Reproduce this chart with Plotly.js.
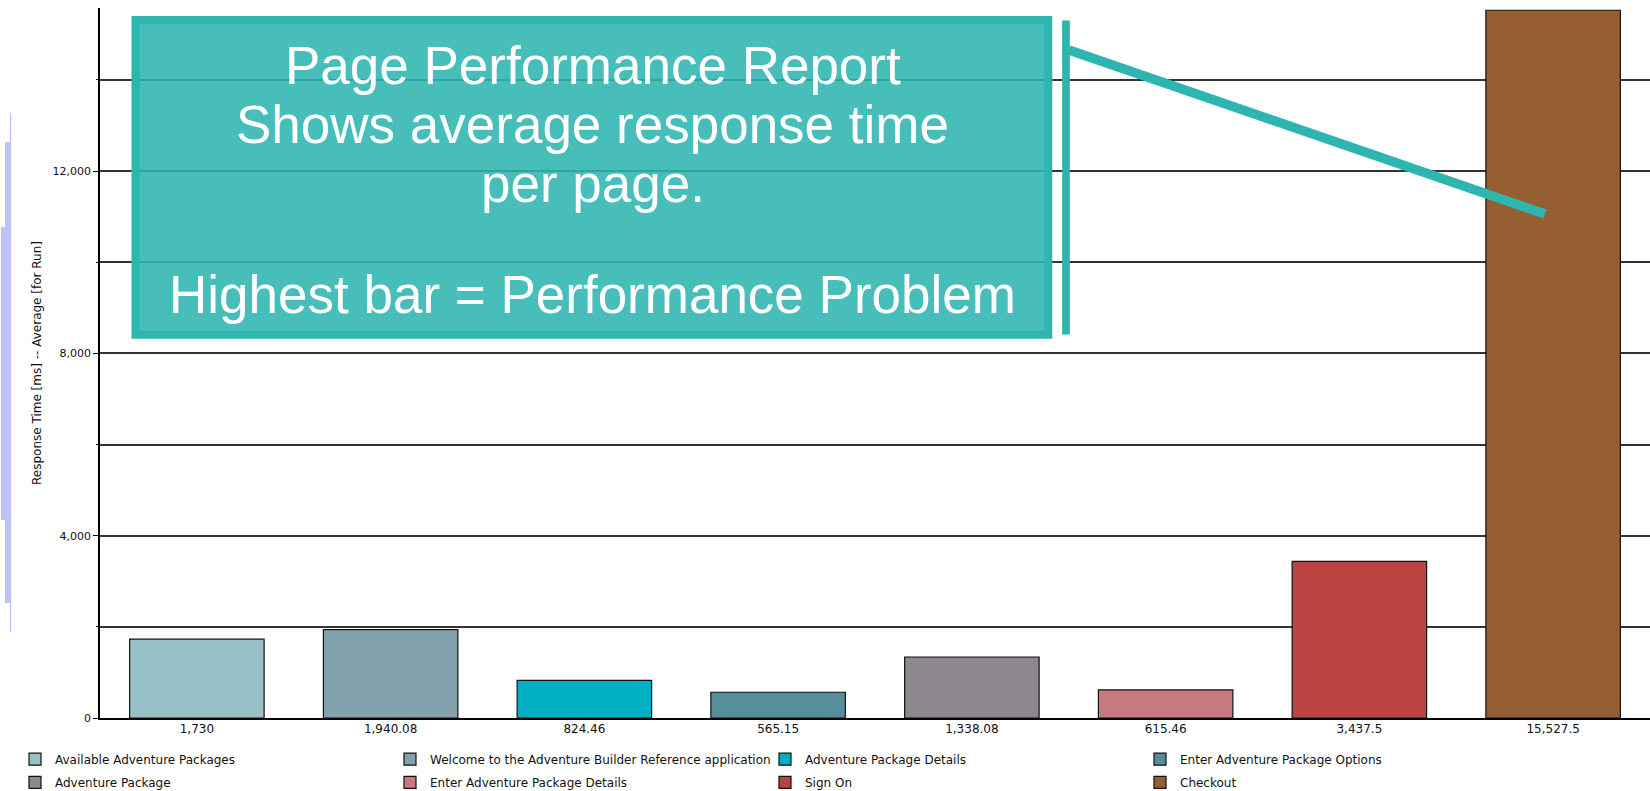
<!DOCTYPE html>
<html>
<head>
<meta charset="utf-8">
<script src="https://cdn.plot.ly/plotly-3.0.1.min.js"></script>
<style>
  html, body { margin: 0; padding: 0; background: #ffffff; }
  #chart { width: 1650px; height: 791px; }
</style>
</head>
<body>
<div id="chart"></div>
<script>
// ---- Data ----
const pageNames = [
  "Available Adventure Packages",
  "Welcome to the Adventure Builder Reference application",
  "Adventure Package Details",
  "Enter Adventure Package Options",
  "Adventure Package",
  "Enter Adventure Package Details",
  "Sign On",
  "Checkout"
];
const responseTimes = [1730, 1940.08, 824.46, 565.15, 1338.08, 615.46, 3437.5, 15527.5];
const tickLabels = ["1,730", "1,940.08", "824.46", "565.15", "1,338.08", "615.46", "3,437.5", "15,527.5"];
const barColors = ["#97c1c6", "#82a2ae", "#00afc2", "#568f9b", "#8d8890", "#c67a7f", "#bb4443", "#955f31"];
const legendRow = ["legend", "legend", "legend", "legend", "legend2", "legend2", "legend2", "legend2"];
const yTickVals = [0, 4000, 8000, 12000];
const yMinorVals = [2000, 6000, 10000, 14000];

const calloutLines = [
  "Page Performance Report",
  "Shows average response time",
  "per page.",
  "Highest bar = Performance Problem"
];

// ---- Layout geometry (pixels) ----
const W = 1650, H = 791;
const M = { l: 100, r: 0, t: 8, b: 73, autoexpand: false };
const plotW = W - M.l - M.r, plotH = H - M.t - M.b;
const px = v => (v - M.l) / plotW;          // pixel x -> paper x
const py = v => (H - M.b - v) / plotH;       // pixel y -> paper y

const teal = "#2eb5b0";
const gridCol = "#333333";

const traces = pageNames.map((name, i) => ({
  type: "bar",
  name: name,
  legend: legendRow[i],
  x: [tickLabels[i]],
  y: [responseTimes[i]],
  marker: { color: barColors[i], line: { color: "#111111", width: 1.2 } },
  hoverinfo: "name+y"
}));

const shapes = [
  // lavender artefacts at the far left
  { type: "rect", xref: "paper", yref: "paper", x0: px(1), x1: px(11), y0: py(520), y1: py(227),
    fillcolor: "#bec2f8", line: { width: 0 }, layer: "above" },
  { type: "rect", xref: "paper", yref: "paper", x0: px(5), x1: px(11), y0: py(603), y1: py(142),
    fillcolor: "#bec2f8", line: { width: 0 }, layer: "above" },
  { type: "rect", xref: "paper", yref: "paper", x0: px(10), x1: px(11.2), y0: py(632), y1: py(113),
    fillcolor: "#bec2f8", line: { width: 0 }, layer: "above" },
  // callout box
  { type: "rect", xref: "paper", yref: "paper", x0: px(135.5), x1: px(1048.3), y0: py(334.7), y1: py(20),
    fillcolor: "rgba(46,181,176,0.88)", line: { color: teal, width: 8 }, layer: "above" },
  // vertical bar next to callout
  { type: "line", xref: "paper", yref: "paper", x0: px(1066), x1: px(1066), y0: py(334.5), y1: py(20.5),
    line: { color: teal, width: 7.7 }, layer: "above" },
  // pointer line to the highest bar
  { type: "line", xref: "paper", yref: "paper", x0: px(1069), x1: px(1545), y0: py(50), y1: py(214),
    line: { color: teal, width: 9.5 }, layer: "above" }
];

const lineY = [65, 124, 183, 294];
const annotations = calloutLines.map((t, i) => ({
  xref: "paper", yref: "paper",
  x: px(592.5), y: py(lineY[i]),
  xanchor: "center", yanchor: "middle",
  text: t, showarrow: false,
  font: { family: "Liberation Sans, Arial, sans-serif", size: 53, color: "#ffffff" }
}));

const legendBase = {
  orientation: "h",
  x: px(15), xanchor: "left",
  yanchor: "top",
  font: { family: "DejaVu Sans, sans-serif", size: 12, color: "#111111" },
  entrywidth: 330, entrywidthmode: "pixels",
  bgcolor: "rgba(0,0,0,0)"
};

const layout = {
  width: W, height: H,
  margin: M,
  paper_bgcolor: "#ffffff",
  plot_bgcolor: "#ffffff",
  barmode: "overlay",
  bargap: 0.306,
  showlegend: true,
  legend: Object.assign({}, legendBase, { y: py(744.7) }),
  legend2: Object.assign({}, legendBase, { y: py(767.9) }),
  xaxis: {
    type: "category",
    categoryorder: "array",
    categoryarray: tickLabels,
    automargin: false,
    showline: true, linecolor: "#000000", linewidth: 1.5,
    showgrid: false, ticks: "", zeroline: false,
    ticklabelstandoff: -1,
    tickfont: { family: "DejaVu Sans, sans-serif", size: 12, color: "#111111" },
    fixedrange: true
  },
  yaxis: {
    range: [0, 15577],
    automargin: false,
    tickvals: yTickVals,
    tickformat: ",d",
    ticks: "outside", ticklen: 5, tickcolor: "#000000", tickwidth: 1.2,
    showline: true, linecolor: "#000000", linewidth: 1.5,
    showgrid: true, gridcolor: gridCol, gridwidth: 1.5,
    zeroline: false,
    minor: { tickvals: yMinorVals, ticks: "outside", ticklen: 2, tickcolor: "#000000",
             showgrid: true, gridcolor: gridCol, gridwidth: 1.5 },
    tickfont: { family: "DejaVu Sans, sans-serif", size: 11, color: "#111111" },
    title: { text: "Response Time [ms] -- Average [for Run]",
             font: { family: "DejaVu Sans, sans-serif", size: 12, color: "#111111" },
             standoff: 8 },
    fixedrange: true
  },
  shapes: shapes,
  annotations: annotations
};

Plotly.newPlot("chart", traces, layout, { displayModeBar: false });
</script>
</body>
</html>
